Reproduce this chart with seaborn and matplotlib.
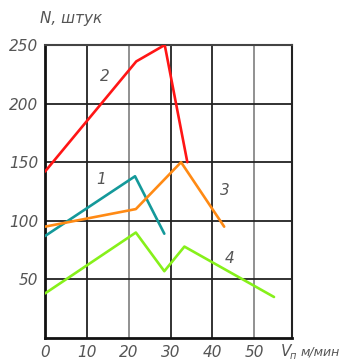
import matplotlib
matplotlib.use("Agg")
import matplotlib.pyplot as plt
import seaborn as sns
import pandas as pd

sns.set_style("white")
plt.rcParams["font.family"] = ["DejaVu Sans"]

# Curves: cutting speed V (m/min) vs number of parts N
v1 = [0, 21.5, 28.5]
n1 = [87, 138, 89]

v2 = [0, 21.8, 28.6, 34]
n2 = [142, 236, 250, 150]

v3 = [0, 21.7, 32.5, 42.8]
n3 = [95, 110, 150, 95]

v4 = [0, 21.7, 28.5, 33.3, 54.7]
n4 = [38, 90, 57, 78, 35]

curve_names = ["1", "2", "3", "4"]
curve_colors = ["#14999a", "#ff1515", "#ff8a14", "#86f01a"]

# label positions for the curve numbers
label_v = [13.4, 14.2, 43.0, 44.0]
label_n = [135, 223, 126, 68]

x_ticks = [0, 10, 20, 30, 40, 50]
y_ticks = [50, 100, 150, 200, 250]

frames = []
for name, vs, ns in zip(curve_names, [v1, v2, v3, v4], [n1, n2, n3, n4]):
    frames.append(pd.DataFrame({"V": vs, "N": ns, "curve": name}))
df = pd.concat(frames, ignore_index=True)

fig = plt.figure(figsize=(3.49, 3.64), dpi=100)
ax = fig.add_axes([45 / 349, 1 - 338 / 364, (292 - 45) / 349, (338 - 45) / 364])

grid_dark = "#222222"
grid_gray = "#888888"
for x, c in zip([10, 20, 30, 40, 50], [grid_dark, grid_gray, grid_dark, grid_dark, grid_gray]):
    ax.axvline(x, color=c, lw=1.3, zorder=0)
for y in [50, 100, 150, 200]:
    ax.axhline(y, color=grid_dark, lw=1.3, zorder=0)

sns.lineplot(data=df, x="V", y="N", hue="curve", palette=curve_colors,
             sort=False, estimator=None, lw=1.9, legend=False, ax=ax, zorder=3)

ax.set_xlim(0, 59)
ax.set_ylim(0, 250)
ax.set_xticks(x_ticks)
ax.set_yticks(y_ticks)
ax.set_xlabel("")
ax.set_ylabel("")

txt_color = "#555555"
tick_font = dict(style="italic", color=txt_color, fontsize=11)
ax.set_xticklabels([str(t) for t in x_ticks], **tick_font)
ax.set_yticklabels([str(t) for t in y_ticks], **tick_font)
ax.tick_params(axis="x", length=0, pad=5)
ax.tick_params(axis="y", length=0, pad=5)

for side, lw, col in [("left", 2.0, "#111111"), ("bottom", 2.0, "#111111"),
                      ("top", 1.5, "#444444"), ("right", 1.5, "#222222")]:
    ax.spines[side].set_visible(True)
    ax.spines[side].set_linewidth(lw)
    ax.spines[side].set_color(col)

for name, lv, ln in zip(curve_names, label_v, label_n):
    ax.text(lv, ln, name, ha="center", va="center", **tick_font)

fig.text(40 / 349, 1 - 18 / 364, "N, штук", ha="left", va="center",
         style="italic", color=txt_color, fontsize=11)
fig.text(281 / 349, 1 - 352 / 364, "V", ha="left", va="center",
         style="italic", color=txt_color, fontsize=11)
fig.text(290 / 349, 1 - 356 / 364, "п", ha="left", va="center",
         style="italic", color=txt_color, fontsize=7)
fig.text(301 / 349, 1 - 352 / 364, "м/мин", ha="left", va="center",
         style="italic", color=txt_color, fontsize=9)

fig.savefig("out.png", dpi=100)
